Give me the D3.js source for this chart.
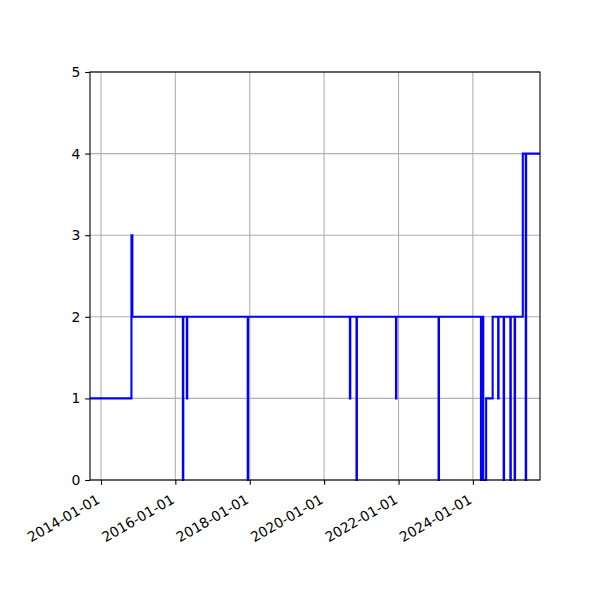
<!DOCTYPE html>
<html>
<head>
<meta charset="utf-8">
<script src="https://cdn.jsdelivr.net/npm/d3@7"></script>
<style>
  body { margin: 0; background: #fff; }
  svg { display: block; }
  text { font-family: "DejaVu Sans", sans-serif; font-size: 13.9px; fill: #000; }
</style>
</head>
<body>
<div id="chart"></div>
<script>
// step series: date where the value changes, and the new value
const changeDates = [
  '2013-09-15', '2014-10-27', '2014-11-05',
  '2016-03-15', '2016-03-19', '2016-04-23', '2016-04-27',
  '2017-12-12', '2017-12-16',
  '2020-09-10', '2020-09-14', '2020-11-14', '2020-11-18',
  '2021-12-07', '2021-12-11',
  '2023-01-29', '2023-02-02',
  '2024-03-20', '2024-03-29', '2024-04-12', '2024-05-10', '2024-07-13',
  '2024-09-05', '2024-09-09', '2024-10-29', '2024-11-02',
  '2025-01-03', '2025-01-07', '2025-02-14', '2025-02-18',
  '2025-05-05', '2025-06-03', '2025-06-07', '2025-10-21'
];
const changeValues = [
  1, 3, 2,
  0, 2, 1, 2,
  0, 2,
  1, 2, 0, 2,
  1, 2,
  0, 2,
  0, 2, 0, 1, 2,
  1, 2, 0, 2,
  0, 2, 0, 2,
  4, 0, 4, 4
];
const xTickDates = ['2014-01-01', '2016-01-01', '2018-01-01', '2020-01-01', '2022-01-01', '2024-01-01'];
const yTicks = [0, 1, 2, 3, 4, 5];

const width = 600, height = 600;
const margin = { top: 72, right: 60, bottom: 120, left: 90 };
const parse = d3.utcParse('%Y-%m-%d');
const fmt = d3.utcFormat('%Y-%m-%d');

const data = changeDates.map((d, i) => ({ date: parse(d), value: changeValues[i] }));

const svg = d3.select('#chart')
  .append('svg')
  .attr('width', width)
  .attr('height', height);

const x = d3.scaleUtc()
  .domain(d3.extent(data, d => d.date))
  .range([margin.left, width - margin.right]);

const y = d3.scaleLinear()
  .domain([0, 5])
  .range([height - margin.bottom, margin.top]);

const tickLen = 4.86, pad = 4.86;
const grid = svg.append('g').attr('class', 'grid');

// grid lines
grid.selectAll('.vgrid')
  .data(xTickDates.map(parse))
  .enter()
  .append('line')
  .attr('x1', d => x(d)).attr('x2', d => x(d))
  .attr('y1', y(0)).attr('y2', y(5))
  .attr('stroke', '#b0b0b0')
  .attr('stroke-width', 1.1);

grid.selectAll('.hgrid')
  .data(yTicks)
  .enter()
  .append('line')
  .attr('x1', x.range()[0]).attr('x2', x.range()[1])
  .attr('y1', d => y(d)).attr('y2', d => y(d))
  .attr('stroke', '#b0b0b0')
  .attr('stroke-width', 1.1);

// the step line
const line = d3.line()
  .x(d => x(d.date))
  .y(d => y(d.value))
  .curve(d3.curveStepAfter);

svg.append('path')
  .datum(data)
  .attr('d', line)
  .attr('fill', 'none')
  .attr('stroke', '#0000ff')
  .attr('stroke-width', 2.08)
  .attr('stroke-linejoin', 'miter');

// x axis
const xAxis = d3.axisBottom(x)
  .tickValues(xTickDates.map(parse))
  .tickFormat(fmt)
  .tickSize(tickLen)
  .tickSizeOuter(0);

const gx = svg.append('g')
  .attr('transform', `translate(0, ${y(0)})`)
  .call(xAxis);
gx.select('.domain').remove();
gx.selectAll('line').attr('stroke', '#000').attr('stroke-width', 1.1);
gx.selectAll('text')
  .attr('y', null).attr('dy', null)
  .attr('font-size', null).attr('font-family', null)
  .attr('text-anchor', 'end')
  .attr('transform', `translate(-0.5, ${tickLen + pad + 12.5}) rotate(-30)`);

// y axis
const yAxis = d3.axisLeft(y)
  .tickValues(yTicks)
  .tickFormat(d3.format('d'))
  .tickSize(tickLen)
  .tickPadding(pad)
  .tickSizeOuter(0);

const gy = svg.append('g')
  .attr('transform', `translate(${x.range()[0]}, 0)`)
  .call(yAxis);
gy.select('.domain').remove();
gy.selectAll('line').attr('stroke', '#000').attr('stroke-width', 1.1);
gy.selectAll('text').attr('font-size', null).attr('font-family', null);

// frame
svg.append('rect')
  .attr('x', x.range()[0])
  .attr('y', y(5))
  .attr('width', x.range()[1] - x.range()[0])
  .attr('height', y(0) - y(5))
  .attr('fill', 'none')
  .attr('stroke', '#000')
  .attr('stroke-width', 1.1);
</script>
</body>
</html>
